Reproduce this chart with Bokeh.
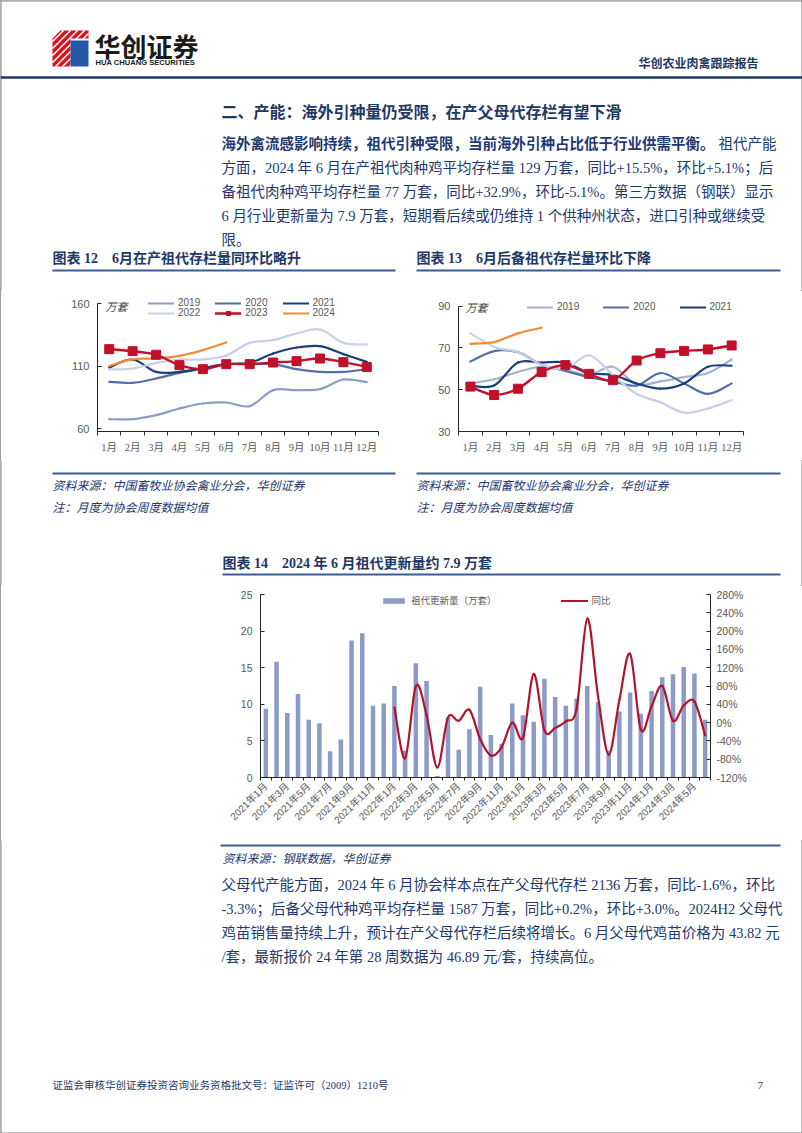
import math
from bokeh.plotting import figure
from bokeh.models import (Range1d, FixedTicker, LinearAxis, Legend, LegendItem, Label,
                          PrintfTickFormatter, ColumnDataSource)
from bokeh.layouts import column, row
from bokeh.core.properties import value
from bokeh.embed import file_html
from bokeh.resources import INLINE

# ---------------- data ----------------
months = ["1月", "2月", "3月", "4月", "5月", "6月", "7月", "8月", "9月", "10月", "11月", "12月"]

# 图表12 在产祖代存栏（万套）
ps_2019 = [67.5, 67.5, 70.7, 76.0, 80.0, 80.8, 77.9, 90.7, 90.7, 91.5, 99.2, 97.1]
ps_2020 = [97.3, 96.5, 100.0, 104.5, 108.0, 111.5, 111.5, 111.5, 107.5, 105.3, 105.3, 107.5]
ps_2021 = [108.8, 115.2, 105.3, 105.3, 108.3, 111.5, 112.5, 120.0, 124.8, 125.9, 119.5, 113.3]
ps_2022 = [107.2, 108.0, 112.5, 115.2, 115.2, 118.4, 128.5, 130.7, 136.0, 139.2, 128.5, 127.2]
ps_2023 = [123.5, 121.9, 119.0, 110.7, 107.5, 111.5, 111.5, 112.8, 113.9, 116.0, 113.1, 109.3]
ps_2024 = [110.1, 115.5, 116.0, 118.1, 122.7, 128.8]

# 图表13 后备祖代存栏（万套）
rs_2019 = [53.0, 55.0, 58.5, 61.0, 59.5, 57.0, 61.0, 52.5, 54.0, 56.0, 58.0, 64.5]
rs_2020 = [63.5, 68.5, 68.0, 62.0, 59.0, 56.0, 54.0, 52.0, 58.0, 53.0, 48.0, 53.0]
rs_2021 = [52.0, 52.0, 63.0, 63.0, 63.0, 58.0, 57.0, 53.0, 50.5, 53.0, 61.0, 61.5]
rs_2022 = [77.0, 70.5, 68.0, 62.0, 60.0, 66.5, 57.0, 48.0, 44.0, 39.0, 41.0, 45.0]
rs_2023 = [51.5, 47.5, 50.5, 58.5, 61.8, 57.6, 54.6, 64.0, 67.5, 68.6, 69.3, 71.2]
rs_2024 = [72.0, 72.8, 77.0, 79.7]

# 图表14 祖代更新量（万套）2021年1月 - 2024年6月
renew_months = [f"{y}年{m}月" for y in (2021, 2022, 2023, 2024) for m in range(1, 13)][:42]
renew = [9.4, 15.8, 8.8, 11.4, 7.9, 7.4, 3.6, 5.2, 18.7, 19.7, 9.8, 10.1,
         12.5, 3.7, 15.6, 13.2, 0.2, 8.2, 3.8, 6.6, 12.4, 5.8, 4.6, 10.1,
         8.5, 7.6, 13.5, 11.0, 9.8, 10.8, 12.5, 10.3, 3.7, 9.0, 11.6, 8.7,
         11.8, 13.7, 14.1, 15.1, 14.2, 7.9]
# 同比（%）2022年1月 - 2024年6月
yoy_start = 12
yoy = [33, -78, 80, 16, -98, 11, 4, 28, -36, -72, -54, 0,
       -33, 106, -17, -12, 3, 30, 227, 58, -70, 50, 150, -16,
       36, 80, 4, 37, 46, -28]

# ---------------- styles ----------------
NAVY = "#1F3864"
TXT = "#22386E"
GRAY = "#595959"
AX = "#262626"
RULE = "#3A5F8F"
SERIF = "Liberation Serif, Noto Sans CJK SC"
SANS = "Liberation Sans, Noto Sans CJK SC"
CJK = "Noto Sans CJK SC"
RED = "#C0102A"
ORANGE = "#F08C35"
C19a, C19b = "#8F9BC7", "#A5B0D5"
C20 = "#5070A8"
C21 = "#1B3F7A"
C22 = "#C8CFE6"
BAR = "#8D9AC6"
RED2 = "#B3122D"


def page_fig(h):
    p = figure(width=802, height=h, x_range=Range1d(0, 802), y_range=Range1d(h, 0),
               output_backend="svg", toolbar_location=None, min_border=0,
               x_axis_type=None, y_axis_type=None, frame_align=False)
    p.outline_line_color = None
    p.background_fill_color = "white"
    p.border_fill_color = "white"
    return p


def put(p, off, x, y, s, size, color=TXT, bold=False, italic=False, font=SERIF, align="left"):
    style = "normal"
    if bold and italic:
        style = "bold italic"
    elif bold:
        style = "bold"
    elif italic:
        style = "italic"
    p.text(x=[x], y=[y - off], text=[s], text_font=value(font), text_font_size=value(f"{size}px"),
           text_color=color, text_font_style=style, text_align=align, text_baseline="middle")


def hline(p, off, x0, x1, y, color=RULE, w=2.0):
    p.line(x=[x0, x1], y=[y - off, y - off], line_color=color, line_width=w)


def border(p, off, h):
    p.line(x=[0.5, 0.5], y=[0, h], line_color="#808080", line_width=1)
    p.line(x=[801.5, 801.5], y=[0, h], line_color="#808080", line_width=1)


def bezier_cols(xs, ys):
    n = len(xs)
    d = dict(x0=[], y0=[], x1=[], y1=[], cx0=[], cy0=[], cx1=[], cy1=[])
    for i in range(n - 1):
        a = max(i - 1, 0)
        b = min(i + 2, n - 1)
        d["x0"].append(xs[i]); d["y0"].append(ys[i])
        d["x1"].append(xs[i + 1]); d["y1"].append(ys[i + 1])
        d["cx0"].append(xs[i] + (xs[i + 1] - xs[a]) / 6.0)
        d["cy0"].append(ys[i] + (ys[i + 1] - ys[a]) / 6.0)
        d["cx1"].append(xs[i + 1] - (xs[b] - xs[i]) / 6.0)
        d["cy1"].append(ys[i + 1] - (ys[b] - ys[i]) / 6.0)
    return ColumnDataSource(d)


def smooth(p, xs, ys, color, w=2.0, **kw):
    return p.bezier(x0="x0", y0="y0", x1="x1", y1="y1", cx0="cx0", cy0="cy0", cx1="cx1", cy1="cy1",
                    source=bezier_cols(xs, ys), line_color=color, line_width=w, line_cap="round", **kw)


def chart_fig(w, h, left, right, top, bottom, xr, yr):
    p = figure(width=w, height=h, x_range=xr, y_range=yr, output_backend="svg",
               toolbar_location=None, min_border_left=left, min_border_right=right,
               min_border_top=top, min_border_bottom=bottom, frame_align=False)
    p.outline_line_color = None
    p.grid.visible = False
    return p


def style_axis(ax, size="10.5px", font=SANS):
    ax.axis_line_color = AX
    ax.axis_line_width = 1
    ax.major_tick_line_color = AX
    ax.minor_tick_line_color = AX
    ax.major_label_text_font = font
    ax.major_label_text_font_size = size
    ax.major_label_text_color = GRAY


def legend(items, loc, spacing, glyph_w=26, glyph_h=10, size="10px", font="Liberation Sans"):
    lg = Legend(items=items, location=loc, orientation="horizontal", glyph_width=glyph_w,
                glyph_height=glyph_h, label_height=glyph_h, label_standoff=4, spacing=spacing,
                padding=0, margin=0, border_line_color=None, background_fill_alpha=0,
                label_text_font=font, label_text_font_size=size, label_text_color=GRAY)
    return lg


def month_chart(w, h, left, right, top, bottom, yr, ybounds, yticks, series, lab_xy):
    p = chart_fig(w, h, left, right, top, bottom, Range1d(0.5, 12.5), Range1d(*yr))
    rend = {}
    for name, vals, color in series:
        if name != "2023":
            xs = list(range(1, len(vals) + 1))
            rend[name] = smooth(p, xs, vals, color, 2.2)
    # 2023 drawn last, with square markers
    for name, vals, color in series:
        if name == "2023":
            xs = list(range(1, len(vals) + 1))
            rend[name] = smooth(p, xs, vals, color, 2.4)
            rend["2023m"] = p.scatter(x=xs, y=vals, marker="square", size=9, fill_color=color,
                                      line_color=color)
    p.xaxis.ticker = FixedTicker(ticks=list(range(1, 13)), minor_ticks=[i + 0.5 for i in range(0, 13)])
    p.xaxis.major_label_overrides = {i + 1: months[i] for i in range(12)}
    p.xaxis.major_tick_out = 0
    p.xaxis.major_tick_in = 0
    p.xaxis.minor_tick_out = 4
    p.xaxis.minor_tick_in = 0
    p.xaxis.major_label_standoff = 6
    style_axis(p.xaxis[0], "10.5px", SERIF)
    p.yaxis.ticker = FixedTicker(ticks=yticks)
    p.yaxis.bounds = ybounds
    p.yaxis.major_tick_in = 4
    p.yaxis.major_tick_out = 0
    p.yaxis.minor_tick_out = 0
    p.yaxis.minor_tick_in = 0
    p.yaxis.major_label_standoff = 8
    style_axis(p.yaxis[0], "11px", SANS)
    p.add_layout(Label(x=lab_xy[0], y=lab_xy[1], x_units="screen", y_units="screen", text="万套",
                       text_font=SERIF, text_font_style="italic", text_font_size="11px",
                       text_color="#404040", text_baseline="middle"))
    return p, rend


# ---------------- strip A: header + text ----------------
A = page_fig(290)
border(A, 0, 290)
A.line(x=[0, 802], y=[0.5, 0.5], line_color="#808080", line_width=1)
# logo
A.patch(x=[52, 60, 88, 88, 70, 70, 52], y=[38, 30, 30, 38, 38, 66, 66], fill_color="#D7141E", line_color=None)
for c in range(86, 140, 7):
    xa, xb = max(52, c - 66), min(88, c - 30)
    A.line(x=[xa, xb], y=[c - xa, c - xb], line_color="white", line_width=1.6)
A.patch(x=[70, 88, 88, 70], y=[40, 40, 66, 66], fill_color="#2457A6", line_color=None)
put(A, 0, 94, 45, "华创证券", 26, "#1a1a1a", bold=True, font=CJK)
put(A, 0, 95, 62, "HUA CHUANG SECURITIES", 7.6, "#1a1a1a", bold=True, font="Liberation Sans")
put(A, 0, 758, 62, "华创农业肉禽跟踪报告", 12, NAVY, bold=True, font=CJK, align="right")
hline(A, 0, 0, 802, 77, NAVY, 2.5)
put(A, 0, 221, 112, "二、产能：海外引种量仍受限，在产父母代存栏有望下滑", 16, NAVY, bold=True)
para1_bold = "海外禽流感影响持续，祖代引种受限，当前海外引种占比低于行业供需平衡。"
put(A, 0, 221, 143, para1_bold, 14.5, TXT, bold=True)
put(A, 0, 221 + 14.5 * len(para1_bold) + 4, 143, "祖代产能", 14.5, TXT)
para1 = ["方面，2024 年 6 月在产祖代肉种鸡平均存栏量 129 万套，同比+15.5%，环比+5.1%；后",
         "备祖代肉种鸡平均存栏量 77 万套，同比+32.9%，环比-5.1%。第三方数据（钢联）显示",
         "6 月行业更新量为 7.9 万套，短期看后续或仍维持 1 个供种州状态，进口引种或继续受",
         "限。"]
for i, s in enumerate(para1):
    put(A, 0, 221, 167 + 24 * i, s, 14.5, TXT)
put(A, 0, 52, 258, "图表 12　6月在产祖代存栏量同环比略升", 14, NAVY, bold=True)
put(A, 0, 416, 258, "图表 13　6月后备祖代存栏量环比下降", 14, NAVY, bold=True)
hline(A, 0, 52, 395, 270)
hline(A, 0, 416, 780, 270)

# ---------------- strip B: charts 12 & 13 ----------------
# both frames: page y 296 -> 431
p12, r12 = month_chart(401, 170, 97, 23, 6, 29, (57.6, 165.6), (57.6, 160), [60, 110, 160],
                       [("2019", ps_2019, C19a), ("2020", ps_2020, C20), ("2021", ps_2021, C21),
                        ("2022", ps_2022, C22), ("2024", ps_2024, ORANGE), ("2023", ps_2023, RED)],
                       (8, 125))
lgA = legend([LegendItem(label="2019", renderers=[r12["2019"]]),
              LegendItem(label="2020", renderers=[r12["2020"]]),
              LegendItem(label="2021", renderers=[r12["2021"]])], (51, 123), 15)
lgB = legend([LegendItem(label="2022", renderers=[r12["2022"]]),
              LegendItem(label="2023", renderers=[r12["2023"], r12["2023m"]]),
              LegendItem(label="2024", renderers=[r12["2024"]])], (51, 113), 15)
p12.add_layout(lgA)
p12.add_layout(lgB)

p13, r13 = month_chart(401, 170, 57, 59, 6, 29, (30, 94.65), (30, 90), [30, 50, 70, 90],
                       [("2019", rs_2019, C19b), ("2020", rs_2020, C20), ("2021", rs_2021, C21),
                        ("2022", rs_2022, C22), ("2024", rs_2024, ORANGE), ("2023", rs_2023, RED)],
                       (7, 124))
lgC = legend([LegendItem(label="2019", renderers=[r13["2019"]]),
              LegendItem(label="2020", renderers=[r13["2020"]]),
              LegendItem(label="2021", renderers=[r13["2021"]])], (69, 119), 24)
p13.add_layout(lgC)

# ---------------- strip C ----------------
C = page_fig(125)
border(C, 460, 125)
hline(C, 460, 52, 395, 473)
hline(C, 460, 416, 780, 473)
for x0 in (52, 416):
    put(C, 460, x0, 485, "资料来源：中国畜牧业协会禽业分会，华创证券", 12, TXT, italic=True)
    put(C, 460, x0, 507, "注：月度为协会周度数据均值", 12, TXT, italic=True)
put(C, 460, 222, 563, "图表 14　2024 年 6 月祖代更新量约 7.9 万套", 14, NAVY, bold=True)
hline(C, 460, 222, 780, 574)

# ---------------- strip D: chart 14 ----------------
p14 = chart_fig(802, 255, 260, 92, 9, 63, Range1d(-0.5, 41.5), Range1d(0, 25))
p14.extra_y_ranges = {"yoy": Range1d(-120, 280)}
idx = list(range(len(renew)))
bars = p14.vbar(x=idx, top=renew, width=0.42, fill_color=BAR, line_color=None)
yx = list(range(yoy_start, yoy_start + len(yoy)))
yoy_r = smooth(p14, yx, yoy, RED2, 2.2, y_range_name="yoy")
p14.xaxis.ticker = FixedTicker(ticks=list(range(0, 42, 2)), minor_ticks=[i - 0.5 for i in range(43)])
p14.xaxis.major_label_overrides = {i: renew_months[i] for i in range(0, 42, 2)}
p14.xaxis.major_label_orientation = math.pi / 4
p14.xaxis.major_tick_out = 0
p14.xaxis.major_tick_in = 0
p14.xaxis.minor_tick_out = 3
p14.xaxis.minor_tick_in = 0
p14.xaxis.major_label_standoff = 4
style_axis(p14.xaxis[0], "10px", SANS)
p14.yaxis.ticker = FixedTicker(ticks=[0, 5, 10, 15, 20, 25])
p14.yaxis.major_tick_in = 4
p14.yaxis.major_tick_out = 0
p14.yaxis.minor_tick_out = 0
p14.yaxis.major_label_standoff = 8
style_axis(p14.yaxis[0], "10.5px", SANS)
rax = LinearAxis(y_range_name="yoy", ticker=FixedTicker(ticks=list(range(-120, 281, 40))),
                 formatter=PrintfTickFormatter(format="%d%%"))
rax.major_tick_in = 4
rax.major_tick_out = 0
rax.minor_tick_out = 0
rax.major_label_standoff = 6
style_axis(rax, "10.5px", SANS)
p14.add_layout(rax, "right")
lgD = legend([LegendItem(label="祖代更新量（万套）", renderers=[bars]),
              LegendItem(label="同比", renderers=[yoy_r])], (120, 170), 64,
             glyph_w=27, glyph_h=7, size="9.5px", font=CJK)
p14.add_layout(lgD)

# ---------------- strip E ----------------
E = page_fig(293)
border(E, 840, 293)
E.line(x=[0, 802], y=[292.5, 292.5], line_color="#808080", line_width=1)
hline(E, 840, 220, 780, 845)
put(E, 840, 222, 858, "资料来源：钢联数据，华创证券", 12, TXT, italic=True)
para2 = ["父母代产能方面，2024 年 6 月协会样本点在产父母代存栏 2136 万套，同比-1.6%，环比",
         "-3.3%；后备父母代种鸡平均存栏量 1587 万套，同比+0.2%，环比+3.0%。2024H2 父母代",
         "鸡苗销售量持续上升，预计在产父母代存栏后续将增长。6 月父母代鸡苗价格为 43.82 元",
         "/套，最新报价 24 年第 28 周数据为 46.89 元/套，持续高位。"]
for i, s in enumerate(para2):
    put(E, 840, 221, 884 + 24 * i, s, 14.5, TXT)
put(E, 840, 52, 1085, "证监会审核华创证券投资咨询业务资格批文号：证监许可（2009）1210号", 10.5, TXT)
put(E, 840, 757, 1085, "7", 11, TXT)

page = column(A, row(p12, p13), C, p14, E,
              styles={"outline": "1px solid #808080", "outline-offset": "-1px"})

open("out.html", "w").write(file_html(page, INLINE))
